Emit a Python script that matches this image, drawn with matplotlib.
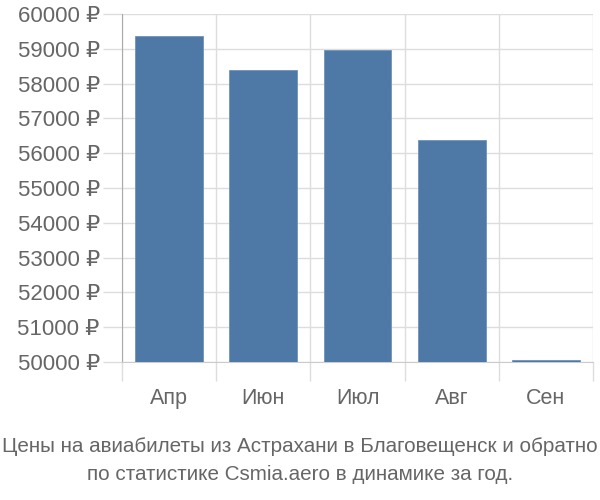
import matplotlib
matplotlib.use("Agg")
import matplotlib.pyplot as plt
from matplotlib.ticker import FixedLocator, FuncFormatter

categories = ["Апр", "Июн", "Июл", "Авг", "Сен"]
prices = [59380, 58400, 58970, 56380, 50070]
y_ticks = [50000, 51000, 52000, 53000, 54000, 55000, 56000, 57000, 58000, 59000, 60000]
caption_lines = ["Цены на авиабилеты из Астрахани в Благовещенск и обратно",
                 "по статистике Csmia.aero в динамике за год."]

plt.rcParams['font.family'] = ['Liberation Sans', 'DejaVu Sans']

fig = plt.figure(figsize=(6, 5), dpi=100)
ax = fig.add_axes([122/600, 1-362/500, (593-122)/600, (362-14)/500])

x = list(range(len(categories)))
ax.bar(x, [p - 50000 for p in prices], bottom=50000, width=0.72, color="#4e79a7",
       edgecolor="#6f93bb", linewidth=0.6, zorder=3)

ax.set_ylim(50000, 60000)
ax.set_xlim(-0.5, len(categories) - 0.5)
ax.set_yticks(y_ticks)
ax.yaxis.set_major_formatter(FuncFormatter(lambda v, p: f"{int(v)} ₽"))
ax.set_xticks(x)
ax.set_xticklabels(categories)
ax.xaxis.set_minor_locator(FixedLocator([i - 0.5 for i in range(len(categories) + 1)]))

ax.grid(axis='y', color="#dddddd", linewidth=1, zorder=0)
ax.grid(axis='x', which='minor', color="#dddddd", linewidth=1, zorder=0)

ax.tick_params(axis='y', length=14, width=1, color="#dddddd", labelsize=16, labelcolor="#666666", pad=2)
ax.tick_params(axis='x', which='major', length=0, labelsize=15.5, labelcolor="#666666", pad=19)
ax.tick_params(axis='x', which='minor', length=14, width=1, color="#dddddd")

for s in ['top', 'right']:
    ax.spines[s].set_visible(False)
ax.spines['left'].set_color("#aaaaaa")
ax.spines['bottom'].set_color("#cccccc")

for i, line in enumerate(caption_lines):
    fig.text(0.5, 1-(446 + 28*i)/500, line, ha='center', va='center', fontsize=14.9, color="#666666")

fig.savefig("out.png", dpi=100)
